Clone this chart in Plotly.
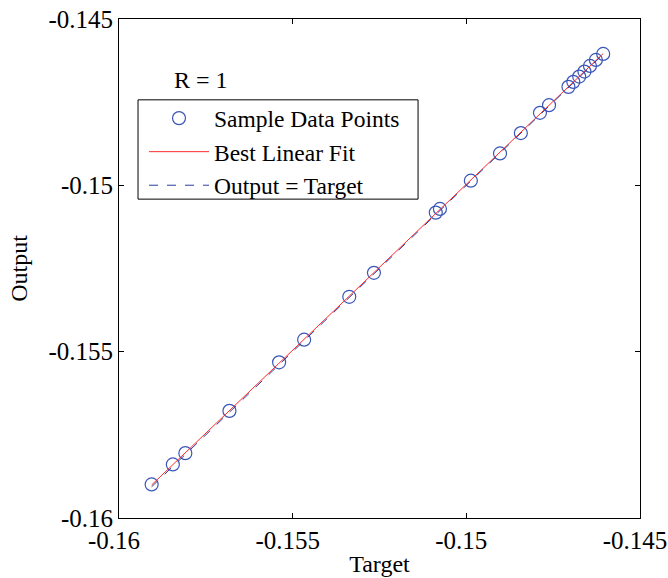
import numpy as np
import plotly.graph_objects as go

# sample points (target vs network output)
targets = [-0.15906, -0.15845, -0.15809, -0.15682, -0.15539, -0.15467, -0.15337,
           -0.15266, -0.15088, -0.15076, -0.14987, -0.14903, -0.14843, -0.14788,
           -0.14762, -0.14706, -0.14692, -0.14675, -0.14660, -0.14644, -0.14627,
           -0.14606]
outputs = [-0.15899, -0.15839, -0.15805, -0.15678, -0.15532, -0.15464, -0.15335,
           -0.15263, -0.15082, -0.15071, -0.14986, -0.14904, -0.14843, -0.14782,
           -0.14759, -0.14704, -0.14689, -0.14673, -0.14658, -0.14641, -0.14623,
           -0.14605]

tick_vals = [-0.16, -0.155, -0.15, -0.145]
tick_text = ["-0.16", "-0.155", "-0.15", "-0.145"]

serif = "Liberation Serif, Times New Roman, serif"
fsize = 25

# best linear fit and identity line over the target range
slope, intercept = np.polyfit(targets, outputs, 1)
t_line = np.array([min(targets), max(targets)])
fit_line = slope * t_line + intercept

fig = go.Figure()
fig.add_trace(go.Scatter(
    x=targets, y=outputs, mode="markers", name="Sample Data Points",
    marker=dict(symbol="circle-open", size=13, color="#3a56b8", line=dict(width=1.2)),
))
fig.add_trace(go.Scatter(
    x=t_line, y=fit_line, mode="lines", name="Best Linear Fit",
    line=dict(color="#ff2a2a", width=1),
))
fig.add_trace(go.Scatter(
    x=t_line, y=t_line, mode="lines", name="Output = Target",
    line=dict(color="#2a3fa0", width=1, dash="dash"),
))

axis_common = dict(
    range=[-0.16, -0.145], tickvals=tick_vals, ticktext=tick_text,
    showgrid=False, zeroline=False, showline=True, linecolor="black", linewidth=1,
    mirror="ticks", ticks="inside", ticklen=5, tickcolor="black",
    tickfont=dict(family=serif, size=fsize, color="black"),
    automargin=False, ticklabeloverflow="allow",
)

fig.update_xaxes(title=dict(text="Target", font=dict(family=serif, size=fsize - 1, color="black"), standoff=2),
                 ticklabelshift=-5, **axis_common)
fig.update_yaxes(title=dict(text="Output", font=dict(family=serif, size=fsize - 1, color="black"), standoff=14),
                 **axis_common)

fig.add_annotation(text="R = 1", x=0.157, y=0.878, xref="paper", yref="paper",
                   xanchor="center", yanchor="middle",
                   showarrow=False, font=dict(family=serif, size=fsize - 1, color="black"))

# legend frame drawn as a box (plotly's own border ignores the wider item symbols)
fig.add_shape(type="rect", xref="paper", yref="paper",
              x0=0.0365, x1=0.574, y0=0.639, y1=0.838,
              line=dict(color="black", width=1), fillcolor="white", layer="above")

fig.update_layout(
    width=668, height=578,
    margin=dict(l=119, r=28, t=19, b=60),
    paper_bgcolor="white", plot_bgcolor="white",
    font=dict(family=serif, size=fsize, color="black"),
    legend=dict(
        x=0.048, y=0.845, xanchor="left", yanchor="top",
        borderwidth=0, bgcolor="rgba(0,0,0,0)",
        font=dict(family=serif, size=23.5, color="black"),
        itemwidth=60, tracegroupgap=0,
    ),
    showlegend=True,
)

fig.write_html("out.html", config={"displayModeBar": False},
               post_script="document.body.style.margin='0px';")
